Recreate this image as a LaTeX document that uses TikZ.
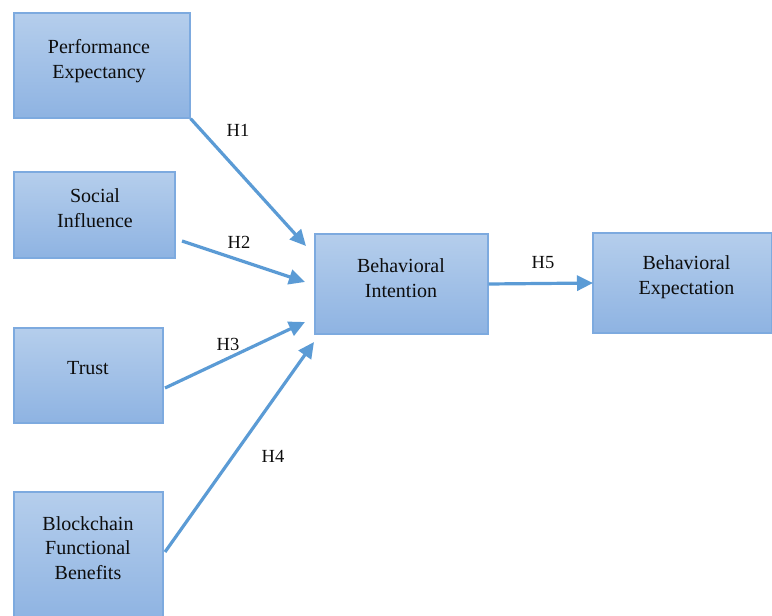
\documentclass[tikz,border=0pt]{standalone}
\usepackage{fontspec}
\setmainfont{Liberation Serif}
\usetikzlibrary{arrows.meta}
\definecolor{boxtop}{HTML}{B5CEEC}
\definecolor{boxbot}{HTML}{8EB3E2}
\definecolor{boxline}{HTML}{7DAADF}
\definecolor{arrcol}{HTML}{5B9BD5}
\tikzset{
  box/.style={draw=boxline, line width=1.3pt, top color=boxtop, bottom color=boxbot, inner sep=0pt, rectangle},
  boxtext/.style={align=center, font=\fontsize{20}{24.5}\selectfont, text=black!95, inner sep=0pt},
  hlabel/.style={font=\fontsize{18.5}{20}\selectfont, text=black!95, inner sep=0pt},
  arr/.style={draw=arrcol, line width=3.2pt, -{Triangle[length=16pt,width=15pt]}}
}
\begin{document}
\begin{tikzpicture}[x=1pt,y=-1pt]
\useasboundingbox (0,0) rectangle (772,616);
% boxes
\node[box, minimum width=176pt, minimum height=105pt] (pe) at (102,65.5) {};
\node[box, minimum width=161pt, minimum height=86pt] (si) at (94.5,215) {};
\node[box, minimum width=149pt, minimum height=95pt] (tr) at (88.5,375.5) {};
\node[box, minimum width=149pt, minimum height=130pt] (bf) at (88.5,557) {};
\node[box, minimum width=173pt, minimum height=100pt] (bi) at (401.5,284) {};
\node[box, minimum width=179pt, minimum height=100pt] (be) at (682.5,283) {};
% texts
\node[boxtext] (pet) at (99,61) {Performance\\Expectancy};
\node[boxtext] (sit) at (95,208) {Social\\Influence};
\node[boxtext] (trt) at (88,368) {Trust};
\node[boxtext] (bft) at (88,548) {Blockchain\\Functional\\Benefits};
\node[boxtext] (bit) at (401,278) {Behavioral\\Intention};
\node[boxtext] (bet) at (686.5,277) {Behavioral\\Expectation};
% arrow endpoints
\coordinate (s2) at (182,241);
\coordinate (s3) at (165,388);
\coordinate (s4) at (165,552);
\coordinate (t1) at (306,246);
\coordinate (t2) at (305,282);
\coordinate (t3) at (305,322);
\coordinate (t4) at (314,342);
\coordinate (t5) at (593,283);
\draw[arr] (pe.south east) -- (t1);
\draw[arr] (s2) -- (t2);
\draw[arr] (s3) -- (t3);
\draw[arr] (s4) -- (t4);
\draw[arr] (bi.east |- 0,284) -- (t5);
% labels
\node[hlabel] (h1) at (238,130) {H1};
\node[hlabel] (h2) at (239,242) {H2};
\node[hlabel] (h3) at (228,344) {H3};
\node[hlabel] (h4) at (273,456) {H4};
\node[hlabel] (h5) at (543,263) {H5};
\end{tikzpicture}
\end{document}
